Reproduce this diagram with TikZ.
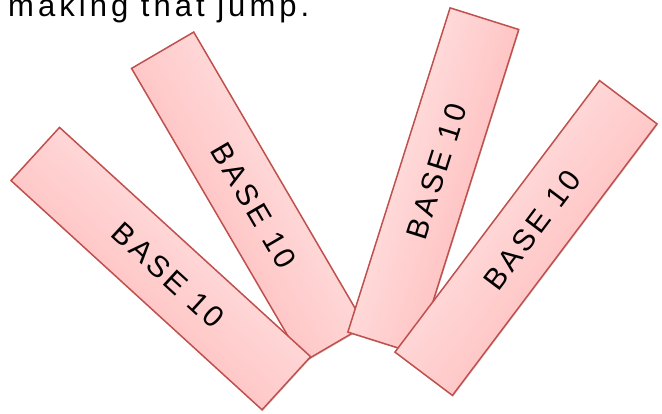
\documentclass[tikz,border=0pt]{standalone}
\usepackage{fontspec}
\setmainfont{Liberation Sans}
\newfontfamily\boxfont[LetterSpace=12]{Liberation Sans}
\newfontfamily\titlefont[LetterSpace=13]{Liberation Sans}
\usetikzlibrary{shadows}
\definecolor{edgeRed}{HTML}{C0504D}
\definecolor{pinkLight}{HTML}{FFECEC}
\definecolor{pinkDark}{HTML}{FFB2B2}
\tikzset{
  baseBox/.style={draw=edgeRed, line width=1.5pt, minimum width=340pt,
    minimum height=72pt, inner sep=0pt, top color=pinkLight, bottom color=pinkDark,
    rotate=#1, shading angle=#1,
    font=\boxfont\fontsize{30}{34}\selectfont,
    drop shadow={shadow xshift=0.8pt, shadow yshift=-1.2pt, opacity=0.25, fill=black!60}},
  titleText/.style={anchor=base west, inner sep=0pt, font=\titlefont\fontsize{31}{34}\selectfont}
}
\begin{document}
\begin{tikzpicture}[x=1pt,y=-1pt]
\useasboundingbox (0,0) rectangle (662,413);
\node[titleText] (title) at (8,16) {making that jump.};
\node[baseBox=-59.7] (b2) at (248.4,197) {\hspace*{20pt}BASE 10};
\node[baseBox=-42.4] (b1) at (160.8,268.6) {\hspace*{20pt}BASE 10};
\node[baseBox=72.5] (b3) at (433.3,180.8) {\hspace*{20pt}BASE 10};
\node[baseBox=53] (b4) at (526,238) {\hspace*{20pt}BASE 10};
\end{tikzpicture}
\end{document}
